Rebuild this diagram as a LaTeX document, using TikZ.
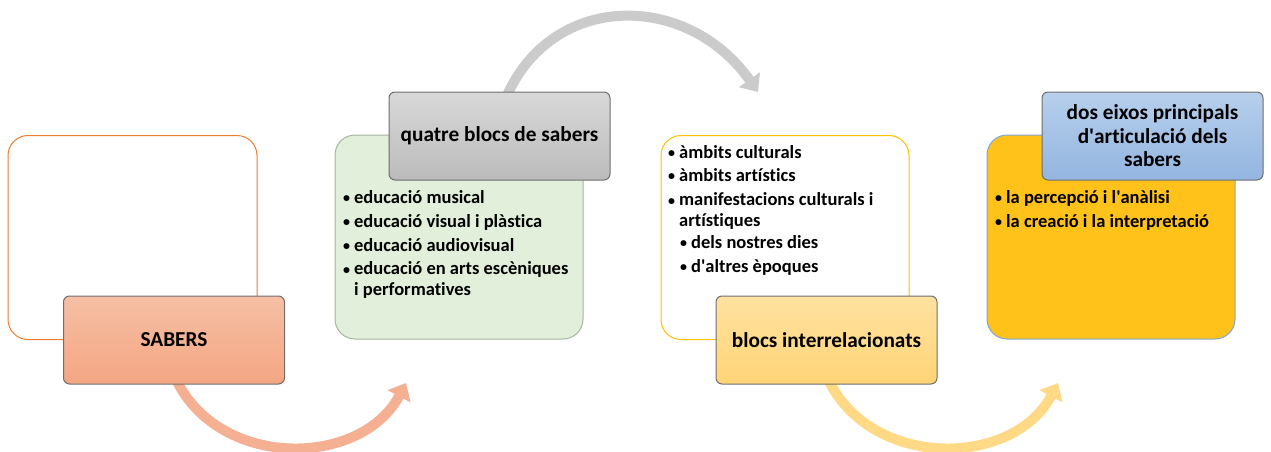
\documentclass[tikz,border=0pt]{standalone}
\usepackage{fontspec}
\setmainfont{Carlito}[Ligatures={TeX,NoCommon}]
\usetikzlibrary{arrows.meta}
\definecolor{orangeB}{HTML}{ED7D31}
\definecolor{salTop}{HTML}{F6BFA4}
\definecolor{salBot}{HTML}{F4A683}
\definecolor{salArr}{HTML}{F5B094}
\definecolor{greenF}{HTML}{E2EFDA}
\definecolor{greenB}{HTML}{A8B4A2}
\definecolor{grayTop}{HTML}{D8D8D8}
\definecolor{grayBot}{HTML}{BBBBBB}
\definecolor{grayArr}{HTML}{CBCBCB}
\definecolor{yelB}{HTML}{FFC000}
\definecolor{yelTop}{HTML}{FFE2A0}
\definecolor{yelBot}{HTML}{FFD477}
\definecolor{yelArr}{HTML}{FFD985}
\definecolor{goldF}{HTML}{FFC21A}
\definecolor{blueB}{HTML}{7EA6D8}
\definecolor{blueTop}{HTML}{B7CFEC}
\definecolor{blueBot}{HTML}{93B5E0}
\definecolor{frontB}{HTML}{6E6E6E}
\newcommand{\bul}{\raisebox{0.5pt}{\fontsize{14}{14}\selectfont\textbullet}}
\newcommand{\ap}{\textquotesingle}
\begin{document}
\begin{tikzpicture}[x=1pt,y=-1pt,
  backbox/.style={rounded corners=20pt, line width=1pt, minimum width=#1, minimum height=204pt, inner sep=0pt},
  frontbox/.style={draw=frontB, line width=1pt, rounded corners=6pt, minimum width=221pt, minimum height=88pt, inner sep=0pt, align=center, font=\fontsize{21.3}{23.5}\selectfont\bfseries},
  listtext/.style={anchor=base west, inner sep=0pt, font=\fontsize{18.5}{20.5}\selectfont\bfseries},
  bigarrow/.style={line width=10pt, -{Triangle[length=15pt,width=25pt]}},
]
\useasboundingbox (0,0) rectangle (1271,452);

% arrow end points
\coordinate (a1s) at (172,370);
\coordinate (a1e) at (406,383);
\coordinate (a2s) at (505,100);
\coordinate (a2e) at (758,92);
\coordinate (a3s) at (824,370);
\coordinate (a3e) at (1058,383);

\draw[bigarrow, draw=salArr] (a1s) .. controls (210,470) and (360,470) .. (a1e);
\draw[bigarrow, draw=grayArr] (a2s) .. controls (550,-9) and (687,-9) .. (a2e);
\draw[bigarrow, draw=yelArr] (a3s) .. controls (862,470) and (1012,470) .. (a3e);

% back boxes
\node[backbox=249pt, draw=orangeB, fill=white] (back1) at (132.5,237.5) {};
\node[backbox=248pt, draw=greenB, fill=greenF] (back2) at (459,237) {};
\node[backbox=248pt, draw=yelB, fill=white] (back3) at (785,237.5) {};
\node[backbox=248pt, draw=blueB, fill=goldF] (back4) at (1111,237) {};

% front boxes
\node[frontbox, top color=salTop, bottom color=salBot] (sabers) at (174,340) {SABERS};
\node[frontbox, top color=grayTop, bottom color=grayBot] (quatre) at (499.5,136) {quatre blocs de sabers};
\node[frontbox, top color=yelTop, bottom color=yelBot] (blocs) at (826.5,340) {blocs interrelacionats};
\node[frontbox, top color=blueTop, bottom color=blueBot] (dos) at (1152.5,136) {dos eixos principals\\d\ap articulació dels\\sabers};

% lists
\node[listtext] (list2) at (343,203) {\begin{tabular}[t]{@{}l@{\hspace{4pt}}l@{}}
\bul & educació musical\\[3.5pt]
\bul & educació visual i plàstica\\[3.5pt]
\bul & educació audiovisual\\[3pt]
\bul & educació en arts escèniques\\
 & i performatives
\end{tabular}};

\node[listtext] (list3) at (668,158) {\begin{tabular}[t]{@{}l@{\hspace{4pt}}l@{}}
\bul & àmbits culturals\\[2.5pt]
\bul & àmbits artístics\\[4pt]
\bul & manifestacions culturals i\\
 & artístiques\\[1.5pt]
 & \hspace{1pt}\bul\hspace{4pt}dels nostres dies\\[3.5pt]
 & \hspace{1pt}\bul\hspace{4pt}d\ap altres èpoques
\end{tabular}};

\node[listtext] (list4) at (995,203) {\begin{tabular}[t]{@{}l@{\hspace{4pt}}l@{}}
\bul & la percepció i l\ap anàlisi\\[3.5pt]
\bul & la creació i la interpretació
\end{tabular}};
\end{tikzpicture}
\end{document}
